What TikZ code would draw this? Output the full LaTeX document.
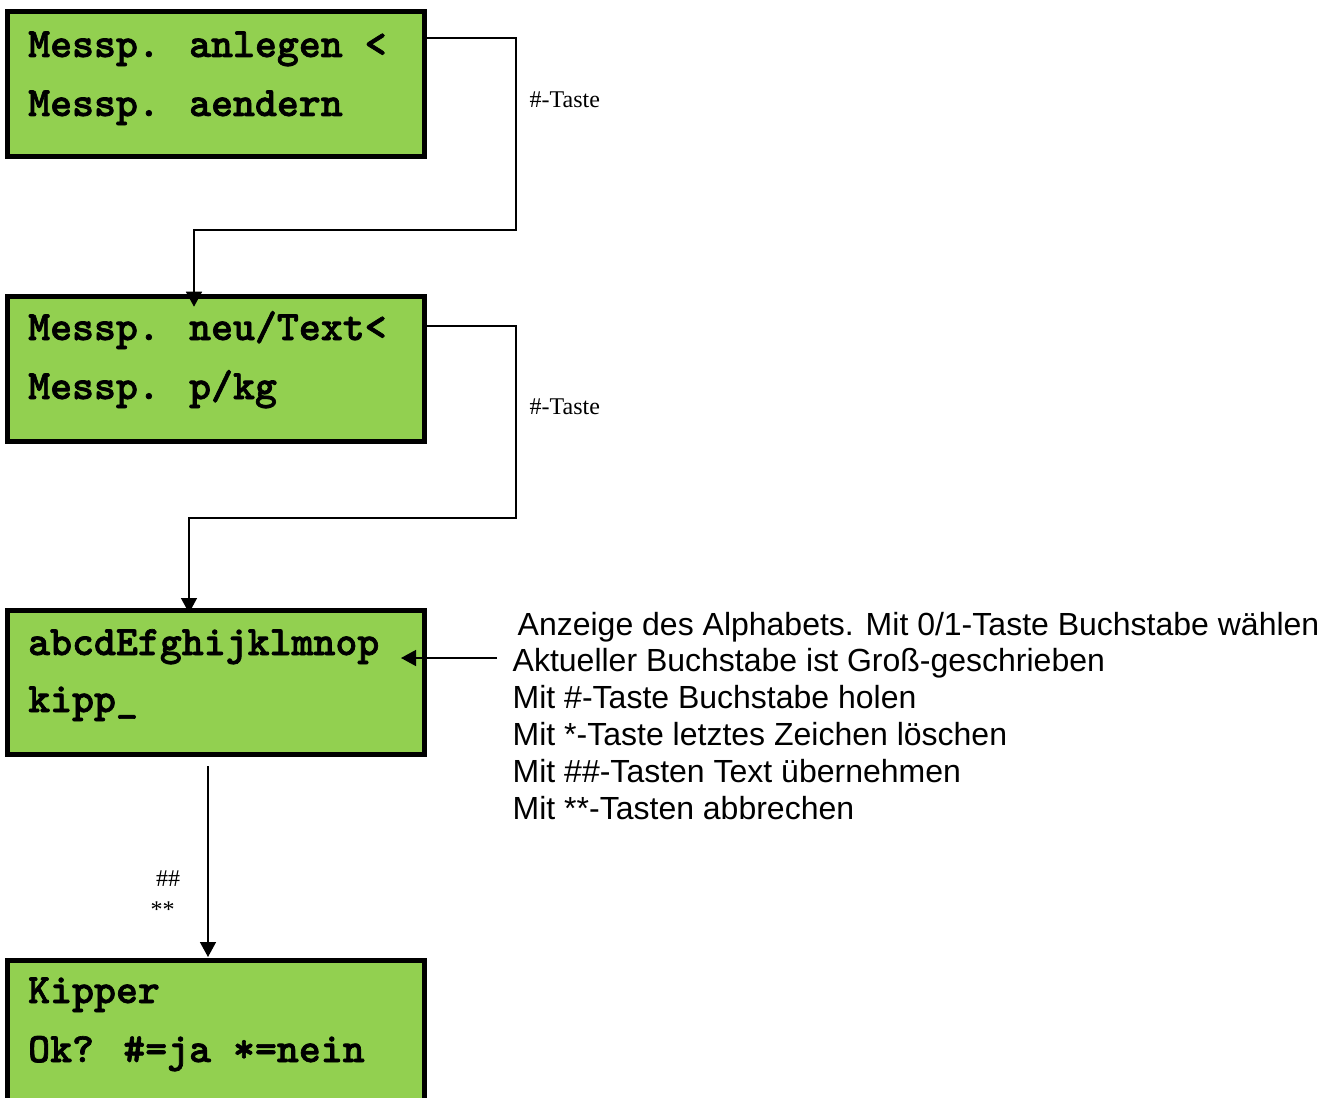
\documentclass[tikz,border=0pt]{standalone}
\usepackage{fontspec}
\newfontfamily\sansf{Liberation Sans}
\newfontfamily\serf{Liberation Serif}
\newfontfamily\lcdfont{lmmonolt10-bold.otf}[FakeBold=1.6]
\usetikzlibrary{arrows.meta,calc}
\definecolor{lcdgreen}{RGB}{146,208,80}
\begin{document}
\begin{tikzpicture}[x=1pt,y=-1pt,
  lcd/.style={draw=black, fill=lcdgreen, line width=5pt, rectangle, inner sep=0pt, outer sep=0pt, anchor=north west, minimum width=416.5pt},
  lcdtxt/.style={font=\lcdfont\fontsize{41.8}{50}\selectfont, anchor=base west, inner sep=0pt},
  conn/.style={line width=1.5pt},
  arr/.style={conn, -{Triangle[length=15pt,width=16pt]}},
  lbl/.style={font=\serf\fontsize{24}{28}\selectfont, anchor=base west, inner sep=0pt},
  info/.style={font=\sansf\fontsize{32}{37}\selectfont, anchor=base west, inner sep=0pt}]
\useasboundingbox (0,0) rectangle (1332,1097);
\clip (0,0) rectangle (1332,1097);

% LCD boxes
\node[lcd, minimum height=144pt] (b1) at (7.5,12) {};
\node[lcd, minimum height=145pt] (b2) at (7.5,296.7) {};
\node[lcd, minimum height=144pt] (b3) at (7.5,610) {};
\node[lcd, minimum height=200pt] (b4) at (7.5,960) {};

% LCD texts
\node[lcdtxt] (b1l1) at (28,57) {Messp. anlegen <};
\node[lcdtxt] (b1l2) at (28,116) {Messp. aendern};
\node[lcdtxt] (b2l1) at (28,340) {Messp. neu/Text<};
\node[lcdtxt] (b2l2) at (28,399) {Messp. p/kg};
\node[lcdtxt] (b3l1) at (28,655) {abcdEfghijklmnop};
\node[lcdtxt] (b3l2) at (28,712) {kipp\_};
\node[lcdtxt] (b4l1) at (28,1003) {Kipper};
\node[lcdtxt] (b4l2) at (28,1062) {Ok? \#=ja *=nein};

% connectors
\draw[arr, shorten >=-10pt] (b1.north east |- 0,38) -- (516,38) |- (194,230) -- (b2.north -| 194,0);
\node[lbl] (k1) at (529.5,107) {\#-Taste};

\draw[arr, shorten >=-3pt] (b2.north east |- 0,326) -- (516,326) |- (189,518) -- (b3.north -| 189,0);
\node[lbl] (k2) at (529.5,414) {\#-Taste};

\coordinate (infoarr) at (497,658);
\draw[arr, shorten >=-23pt] (infoarr) -- (b3.east |- infoarr);

\draw[arr, shorten <=12pt, shorten >=3pt] (b3.south -| 208,0) -- (b4.north -| 208,0);
\node[lbl] (k3) at (156,886) {\#\#};
\node[lbl] (k4) at (150.5,917) {**};

% info text
\node[info] (t1) at (517.5,635) {Anzeige des Alphabets. Mit 0/1-Taste Buchstabe wählen};
\node[info] (t2) at (512.5,671.9) {Aktueller Buchstabe ist Groß-geschrieben};
\node[info] (t3) at (512.5,708.7) {Mit \#-Taste Buchstabe holen};
\node[info] (t4) at (512.5,745.6) {Mit *-Taste letztes Zeichen löschen};
\node[info] (t5) at (512.5,782.4) {Mit \#\#-Tasten Text übernehmen};
\node[info] (t6) at (512.5,819.3) {Mit **-Tasten abbrechen};
\end{tikzpicture}
\end{document}
